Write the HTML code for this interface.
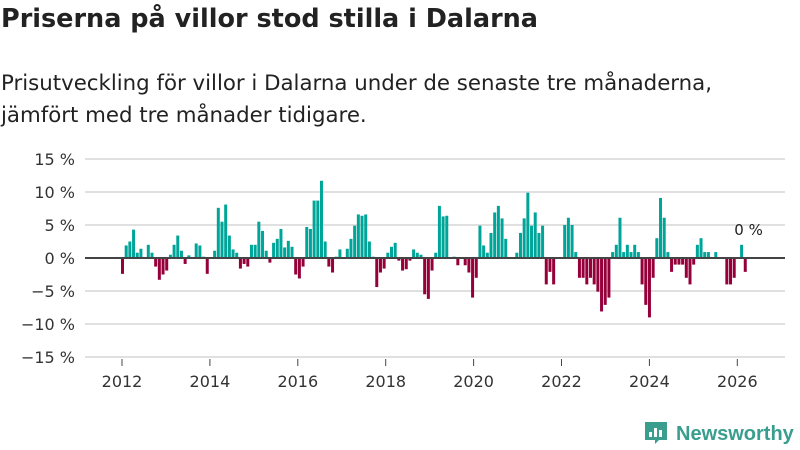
<!DOCTYPE html>
<html><head><meta charset="utf-8">
<style>
body{margin:0;background:#fff;font-family:"Liberation Sans",sans-serif;}
#wrap{position:relative;width:800px;height:450px;overflow:hidden;}
h1{position:absolute;left:1px;top:4px;margin:0;font-family:"DejaVu Sans",sans-serif;font-size:25.5px;font-weight:bold;color:#222;white-space:nowrap;}
.sub{position:absolute;left:1px;top:68px;margin:0;font-family:"DejaVu Sans",sans-serif;font-size:21.3px;line-height:32px;color:#222;white-space:nowrap;}
</style></head>
<body><div id="wrap">
<h1>Priserna på villor stod stilla i Dalarna</h1>
<p class="sub">Prisutveckling för villor i Dalarna under de senaste tre månaderna,<br>jämfört med tre månader tidigare.</p>
<svg id="chart" width="800" height="450" style="position:absolute;left:0;top:0"></svg>
</div>
<script>
const yTicks=[15,10,5,0,-5,-10,-15];
const yTickLabels=["15 %","10 %","5 %","0 %","−5 %","−10 %","−15 %"];
const xTicks=[2012,2014,2016,2018,2020,2022,2024,2026];
const startYear=2012;
const values=[
-2.4,1.9,2.5,4.3,0.8,1.4,0,2.0,0.8,-1.3,-3.3,-2.5,-1.9,0.5,2.0,3.4,1.1,-0.9,0.4,0,2.2,1.9,0.2,-2.4,
0,1.1,7.6,5.5,8.1,3.4,1.3,0.8,-1.6,-0.9,-1.3,2.0,2.0,5.5,4.1,1.1,-0.7,2.3,2.9,4.4,1.6,2.6,1.7,-2.5,
-3.1,-1.3,4.7,4.4,8.7,8.7,11.7,2.5,-1.3,-2.2,0.2,1.3,0,1.4,2.9,4.9,6.6,6.4,6.6,2.5,0.2,-4.4,-2.2,-1.6,
0.8,1.7,2.3,-0.4,-1.9,-1.7,-0.4,1.3,0.8,0.5,-5.5,-6.2,-1.9,0.8,7.9,6.3,6.4,0,0.2,-1.1,0,-1.1,-2.2,-6.0,
-3.0,4.9,1.9,0.8,3.8,6.9,7.9,6.0,2.9,0,0,0.8,3.8,6.0,9.9,4.9,6.9,3.8,4.9,-4.0,-2.1,-4.0,0,0,
5.0,6.1,5.0,0.9,-3.0,-3.0,-4.0,-3.0,-4.0,-5.1,-8.1,-7.1,-6.0,0.9,2.0,6.1,0.9,2.0,0.9,2.0,0.9,-4.0,-7.1,-9.0,
-3.0,3.0,9.1,6.1,0.9,-2.1,-1.0,-1.0,-1.0,-3.0,-4.0,-1.0,2.0,3.0,0.9,0.9,0,0.9,0,0,-4.0,-4.0,-3.0,0.0,2.0,-2.1
];
const lastLabel="0 %";
const NS="http://www.w3.org/2000/svg";
const svg=document.getElementById('chart');
function yS(v){return 258-v*6.6;}
function xS(year){return 122+(year-startYear)*43.95;}
function barX(i){return 122.5+i*3.685;}
function mk(t,a){const e=document.createElementNS(NS,t);for(const k in a)e.setAttribute(k,a[k]);svg.appendChild(e);return e;}
yTicks.forEach((t,k)=>{
 if(t!==0){const g=mk('line',{x1:85,x2:785,y1:yS(t),y2:yS(t),stroke:'#e0e0e0','stroke-width':2});
 
 }
 const tx=mk('text',{x:75,y:yS(t)+6,'text-anchor':'end','font-size':16,fill:'#333','font-family':'DejaVu Sans, sans-serif'});
 tx.textContent=yTickLabels[k];
 
 
});
values.forEach((v,i)=>{
 if(v===0)return;
 const y0=yS(Math.max(v,0)),y1=yS(Math.min(v,0));
 const r=mk('rect',{x:barX(i)-1.5,y:y0,width:3,height:Math.max(y1-y0,0.5),fill:v>0?'#00a59a':'#96003a'});
 
 
});
const z=mk('line',{x1:85,x2:785,y1:258,y2:258,stroke:'#444','stroke-width':2});


xTicks.forEach(t=>{
 const l=mk('line',{x1:xS(t),x2:xS(t),y1:359,y2:366,stroke:'#444','stroke-width':1});
 
 
 const tx=mk('text',{x:xS(t),y:387,'text-anchor':'middle','font-size':16,fill:'#333','font-family':'DejaVu Sans, sans-serif'});
 tx.textContent=t;
 
 
});
let li=values.length-1;while(li>0&&values[li]<=0)li--;
const lab=mk('text',{x:barX(li)+7,y:yS(values[li])-10,'text-anchor':'middle','font-size':15,fill:'#222','font-family':'DejaVu Sans, sans-serif'});
lab.textContent=lastLabel;


const lg=mk('g',{});


const ic=document.createElementNS(NS,'path');
ic.setAttribute('d','M645 422 h22 v18 h-8 l-4 4 v-4 h-10 z');
ic.setAttribute('fill','#3a9e8f');
lg.appendChild(ic);
[[649,432,3,5],[654,428,3,9],[659,430,3,7]].forEach(b=>{const r=document.createElementNS(NS,'rect');r.setAttribute('x',b[0]);r.setAttribute('y',b[1]);r.setAttribute('width',b[2]);r.setAttribute('height',b[3]);r.setAttribute('fill','#fff');lg.appendChild(r);});
const lt=document.createElementNS(NS,'text');
lt.setAttribute('x',676);lt.setAttribute('y',440);lt.setAttribute('font-size',20);lt.setAttribute('font-weight','bold');lt.setAttribute('fill','#3a9e8f');lt.setAttribute('font-family','Liberation Sans, sans-serif');
lt.textContent='Newsworthy';
lg.appendChild(lt);
</script>
</body></html>
